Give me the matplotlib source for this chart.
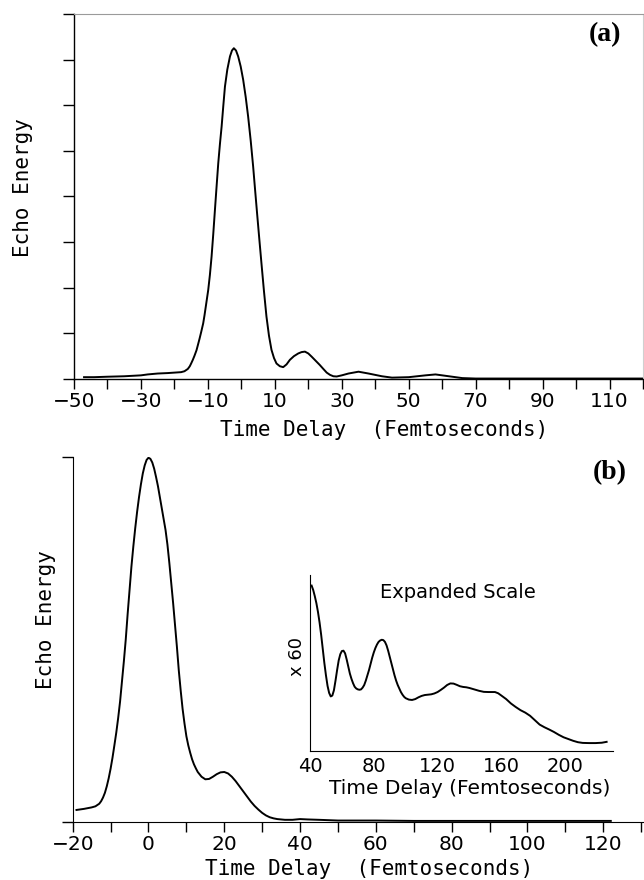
import matplotlib
matplotlib.use("Agg")
import matplotlib.pyplot as plt

# ---------------- data ----------------
# Panel (a)
a_x = [-47, -44, -40, -35, -30, -28, -25, -22, -20, -18, -17, -16, -15.4, -15, -14.5, -14,
       -13.4, -13, -12.5, -12, -11.4, -11, -10.5, -9.9, -9.4, -8.9, -8.4, -7.9, -7.4, -6.9,
       -6.4, -5.9, -5.4, -4.9, -4.2, -3.4, -2.8, -2.24, -1.6, -0.95, -0.2, 0.54, 1.3, 2.03,
       2.8, 3.52, 4.1, 4.7, 5.35, 6.0, 6.75, 7.5, 8.25, 9.0, 9.75, 10.5, 11.5, 12.5, 13.5,
       14.5, 15.7, 17.0, 18.0, 19.0, 20.0, 21.0, 22.2, 23.4, 24.5, 25.5, 26.5, 27.5, 28.5,
       30, 32, 35, 38, 42, 45, 50, 55, 58, 62, 66, 70, 80, 90, 100, 110, 120]
a_y = [0.04, 0.04, 0.05, 0.06, 0.08, 0.1, 0.12, 0.13, 0.14, 0.15, 0.17, 0.22, 0.28, 0.34,
       0.42, 0.51, 0.63, 0.74, 0.88, 1.03, 1.22, 1.4, 1.65, 1.95, 2.28, 2.68, 3.17, 3.7, 4.22,
       4.73, 5.15, 5.53, 5.98, 6.41, 6.78, 7.07, 7.2, 7.25, 7.2, 7.07, 6.85, 6.56, 6.18, 5.75,
       5.22, 4.66, 4.15, 3.63, 3.08, 2.54, 1.93, 1.37, 0.95, 0.64, 0.46, 0.34, 0.28, 0.26,
       0.32, 0.42, 0.5, 0.56, 0.59, 0.6, 0.56, 0.49, 0.4, 0.31, 0.22, 0.14, 0.09, 0.06, 0.055,
       0.08, 0.12, 0.16, 0.12, 0.06, 0.03, 0.04, 0.08, 0.1, 0.06, 0.02, 0.01, 0.01, 0.01,
       0.01, 0.01, 0.01]

# Panel (b)
b_x = [-19, -17, -15, -14, -13, -12.5, -12, -11.5, -11, -10.5, -10, -9.5, -9, -8.5, -8, -7.5,
       -7, -6.5, -6, -5.5, -5, -4.5, -4, -3.5, -3, -2.5, -2, -1.5, -1, -0.5, 0, 0.5, 1, 1.5,
       2, 2.5, 3, 3.5, 4, 4.5, 5, 5.5, 6, 6.5, 7, 7.5, 8, 8.5, 9, 9.5, 10, 10.5, 11, 11.5,
       12, 12.5, 13, 14, 15, 16, 17, 18, 19, 20, 21, 22, 23, 24, 25, 26, 27, 28, 29, 30, 31,
       32, 33, 34, 36, 38, 40, 42, 45, 50, 60, 70, 80, 90, 100, 110, 122]
b_y = [0.033, 0.036, 0.04, 0.043, 0.05, 0.057, 0.067, 0.08, 0.098, 0.12, 0.146, 0.176, 0.21,
       0.245, 0.285, 0.33, 0.385, 0.44, 0.5, 0.57, 0.635, 0.7, 0.755, 0.805, 0.85, 0.89,
       0.925, 0.955, 0.977, 0.992, 0.998, 0.995, 0.985, 0.968, 0.945, 0.92, 0.89, 0.86, 0.83,
       0.8, 0.76, 0.71, 0.655, 0.6, 0.54, 0.48, 0.415, 0.36, 0.31, 0.27, 0.235, 0.21, 0.19,
       0.172, 0.158, 0.147, 0.137, 0.124, 0.117, 0.118, 0.124, 0.131, 0.136, 0.137, 0.133,
       0.124, 0.112, 0.098, 0.084, 0.07, 0.056, 0.044, 0.034, 0.025, 0.018, 0.013, 0.01,
       0.008, 0.006, 0.006, 0.008, 0.007, 0.006, 0.004, 0.004, 0.003, 0.003, 0.003, 0.003,
       0.003, 0.003]

# Inset (expanded scale x 60)
i_x = [41, 42, 43, 44, 45, 46, 47, 48, 49, 50, 51, 52, 53, 54, 55, 56, 57, 58, 59, 60, 61,
       62, 63, 64, 65, 66, 67, 68, 69, 70, 71, 72, 73, 74, 75, 76, 77, 78, 79, 80, 81, 82,
       83, 84, 85, 86, 87, 88, 89, 90, 91, 92, 93, 94, 95, 96, 97, 98, 99, 100, 102, 104,
       106, 108, 110, 112, 114, 116, 118, 120, 122, 124, 126, 128, 130, 132, 134, 136, 138,
       140, 143, 146, 149, 152, 156, 158, 160, 163, 166, 169, 172, 175, 178, 181, 184, 187,
       190, 193, 196, 199, 202, 205, 208, 211, 215, 219, 223, 226]
i_y = [0.94, 0.915, 0.88, 0.84, 0.79, 0.73, 0.66, 0.58, 0.5, 0.43, 0.37, 0.33, 0.31, 0.315,
       0.345, 0.4, 0.46, 0.515, 0.55, 0.568, 0.57, 0.555, 0.52, 0.48, 0.44, 0.41, 0.385,
       0.365, 0.355, 0.35, 0.348, 0.35, 0.36, 0.375, 0.4, 0.43, 0.46, 0.495, 0.53, 0.56,
       0.585, 0.605, 0.62, 0.628, 0.632, 0.63, 0.62, 0.6, 0.57, 0.535, 0.5, 0.465, 0.43, 0.4,
       0.375, 0.355, 0.335, 0.32, 0.308, 0.3, 0.292, 0.29, 0.295, 0.305, 0.313, 0.318, 0.32,
       0.322, 0.327, 0.335, 0.347, 0.36, 0.375, 0.384, 0.383, 0.376, 0.368, 0.364, 0.362,
       0.358, 0.35, 0.342, 0.336, 0.335, 0.335, 0.328, 0.315, 0.295, 0.27, 0.25, 0.232,
       0.218, 0.2, 0.175, 0.15, 0.135, 0.122, 0.108, 0.092, 0.078, 0.068, 0.058, 0.05, 0.046,
       0.045, 0.045, 0.047, 0.052]

a_ticks = list(range(-50, 121, 10))
b_ticks = list(range(-20, 131, 10))
i_ticks = [40, 80, 120, 160, 200]


def fmt(t):
    return str(t).replace("-", "\u2212")


a_labels = [fmt(t) if (t + 50) % 20 == 0 else "" for t in a_ticks]
b_labels = [fmt(t) if t % 20 == 0 else "" for t in b_ticks]

# ---------------- figure ----------------
W, H = 644, 880
fig = plt.figure(figsize=(W / 100, H / 100), dpi=100)


def box(l, t, r, b):
    return [l / W, 1 - b / H, (r - l) / W, (b - t) / H]


mono = "DejaVu Sans Mono"
sans = "DejaVu Sans"
tick_fs = 14.5
lw_curve = 1.4

# ---- Panel (a)
ax1 = fig.add_axes(box(74, 14, 643, 379))
ax1.plot(a_x, a_y, color="black", lw=lw_curve, solid_joinstyle="round")
ax1.set_xlim(-50, 120)
ax1.set_ylim(0, 8)
ax1.set_xticks(a_ticks)
ax1.set_xticklabels(a_labels, fontsize=tick_fs, family=sans)
ax1.set_yticks(range(0, 9))
ax1.set_yticklabels([])
ax1.tick_params(axis="x", direction="out", length=7, width=1, pad=2)
ax1.tick_params(axis="y", direction="out", length=8, width=1)
ax1.spines["top"].set_color("#9a9a9a")
ax1.spines["right"].set_color("#d0d0d0")
for s in ("left", "bottom"):
    ax1.spines[s].set_linewidth(1.0)

fig.text(605 / W, 1 - 35 / H, "(a)", fontsize=20, fontweight="bold",
         family="Liberation Serif", ha="center", va="center")
fig.text(384.5 / W, 1 - 430 / H, "Time Delay  (Femtoseconds)", family=mono, fontsize=15,
         ha="center", va="center")
fig.text(23 / W, 1 - 188 / H, "Echo Energy", family=mono, fontsize=15, rotation=90,
         ha="center", va="center")

# ---- Panel (b)
ax2 = fig.add_axes(box(72.7, 457, 643, 822))
ax2.plot(b_x, b_y, color="black", lw=lw_curve, solid_joinstyle="round")
ax2.set_xlim(-20, 130.5)
ax2.set_ylim(0, 1.0)
ax2.set_xticks(b_ticks)
ax2.set_xticklabels(b_labels, fontsize=tick_fs, family=sans)
ax2.set_yticks([0, 1])
ax2.set_yticklabels([])
ax2.tick_params(axis="x", direction="out", length=7, width=1, pad=2)
ax2.tick_params(axis="y", direction="out", length=8, width=1)
ax2.spines["top"].set_visible(False)
ax2.spines["right"].set_visible(False)

fig.text(610 / W, 1 - 473 / H, "(b)", fontsize=20, fontweight="bold",
         family="Liberation Serif", ha="center", va="center")
fig.text(369.5 / W, 1 - 869 / H, "Time Delay  (Femtoseconds)", family=mono, fontsize=15,
         ha="center", va="center")
fig.text(46 / W, 1 - 620 / H, "Echo Energy", family=mono, fontsize=15, rotation=90,
         ha="center", va="center")

# ---- Inset
ax3 = fig.add_axes(box(310, 575, 613, 751))
ax3.plot(i_x, i_y, color="black", lw=lw_curve, solid_joinstyle="round")
ax3.set_xlim(40, 230)
ax3.set_ylim(0, 1.0)
ax3.set_xticks(i_ticks)
ax3.set_xticklabels([str(t) for t in i_ticks], fontsize=14, family=sans)
ax3.set_yticks([])
ax3.tick_params(axis="x", length=0, pad=4)
ax3.spines["top"].set_visible(False)
ax3.spines["right"].set_visible(False)
ax3.patch.set_alpha(0)

fig.text(458 / W, 1 - 593 / H, "Expanded Scale", family=sans, fontsize=14,
         ha="center", va="center")
fig.text(470 / W, 1 - 788 / H, "Time Delay (Femtoseconds)", family=sans, fontsize=14.5,
         ha="center", va="center")
fig.text(297 / W, 1 - 656 / H, "x 60", family=sans, fontsize=13, rotation=90,
         ha="center", va="center")

fig.savefig("out.png", dpi=100)
